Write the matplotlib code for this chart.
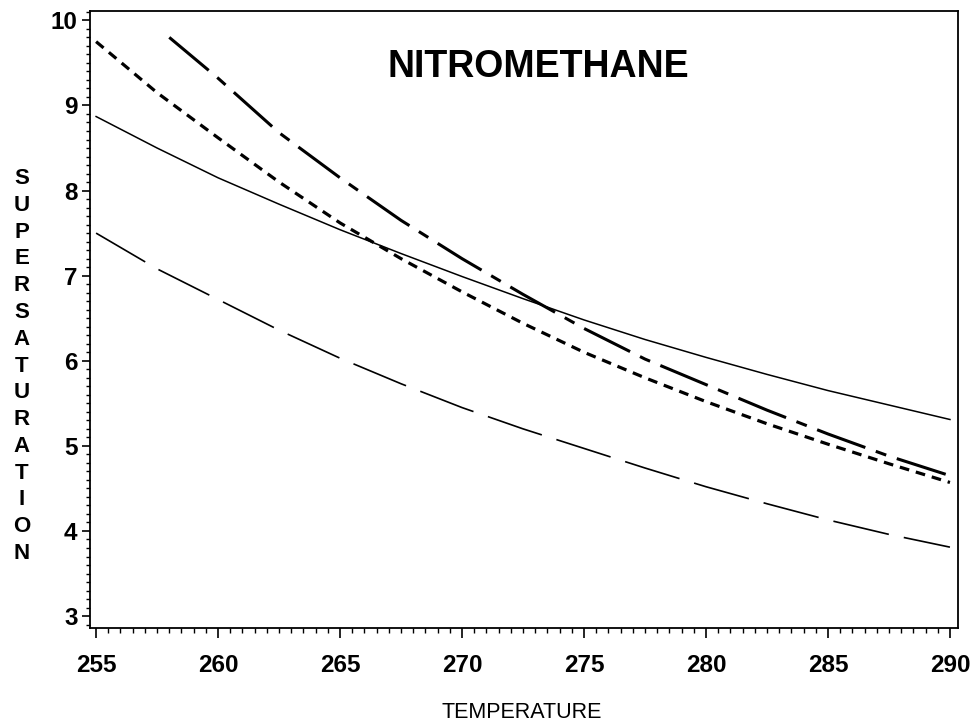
import numpy as np
import matplotlib
matplotlib.use("Agg")
import matplotlib.pyplot as plt
from matplotlib.ticker import MultipleLocator

plt.rcParams['font.family'] = ['Liberation Sans', 'DejaVu Sans']
plt.rcParams['lines.scale_dashes'] = False

# temperature grid
temp = [255, 257.5, 260, 262.5, 265, 267.5, 270, 272.5, 275, 277.5, 280, 282.5, 285, 287.5, 290]
solid = [8.87, 8.50, 8.15, 7.84, 7.54, 7.26, 6.99, 6.73, 6.48, 6.25, 6.04, 5.84, 5.65, 5.48, 5.31]
long_dash = [7.50, 7.08, 6.72, 6.36, 6.03, 5.73, 5.45, 5.20, 4.97, 4.74, 4.52, 4.32, 4.13, 3.96, 3.81]
short_dash = [9.75, 9.15, 8.62, 8.10, 7.62, 7.20, 6.81, 6.44, 6.10, 5.80, 5.52, 5.26, 5.02, 4.79, 4.57]

temp_dd = [258, 260, 262.5, 265, 267.5, 270, 272.5, 275, 277.5, 280, 282.5, 285, 287.5, 290]
dash_dot = [9.80, 9.32, 8.68, 8.15, 7.65, 7.20, 6.78, 6.38, 6.02, 5.72, 5.42, 5.14, 4.88, 4.65]

xticks = [255, 260, 265, 270, 275, 280, 285, 290]
yticks = [3, 4, 5, 6, 7, 8, 9, 10]

fig = plt.figure(figsize=(9.74, 7.24), dpi=100)
ax = fig.add_axes([90 / 974, 1 - 628 / 724, 868 / 974, 617 / 724])

ax.plot(temp, solid, color="black", lw=1.1)
ax.plot(temp, long_dash, color="black", lw=1.2, dashes=(41, 11))
ax.plot(temp, short_dash, color="black", lw=2.3, dashes=(7, 5))
ax.plot(temp_dd, dash_dot, color="black", lw=2.2, dashes=(37, 8, 8, 8))

ax.set_xlim(254.75, 290.33)
ax.set_ylim(2.86, 10.11)
ax.set_xticks(xticks)
ax.set_yticks(yticks)
ax.xaxis.set_minor_locator(MultipleLocator(0.5))
ax.yaxis.set_minor_locator(MultipleLocator(0.1))

for s in ax.spines.values():
    s.set_linewidth(1.3)

ax.tick_params(axis="x", which="major", direction="out", length=7, width=1.2, pad=12,
               labelsize=17.5)
ax.tick_params(axis="x", which="minor", direction="out", length=3.5, width=1.0)
ax.tick_params(axis="y", which="major", direction="out", length=6, width=1.2, pad=3,
               labelsize=17.5)
ax.tick_params(axis="y", which="minor", direction="out", length=3, width=1.0)
for lab in ax.get_xticklabels() + ax.get_yticklabels():
    lab.set_fontweight("bold")

ax.text(0.517, 0.909, "NITROMETHANE", transform=ax.transAxes, ha="center", va="center",
        fontsize=27, fontweight="bold")

fig.text(522 / 974, 1 - 712 / 724, "TEMPERATURE", ha="center", va="center", fontsize=15.5)
fig.text(22 / 974, 1 - 366 / 724, "\n".join("SUPERSATURATION"), ha="center", va="center",
         fontsize=16, fontweight="bold", linespacing=1.36)

fig.savefig("out.png", dpi=100)
